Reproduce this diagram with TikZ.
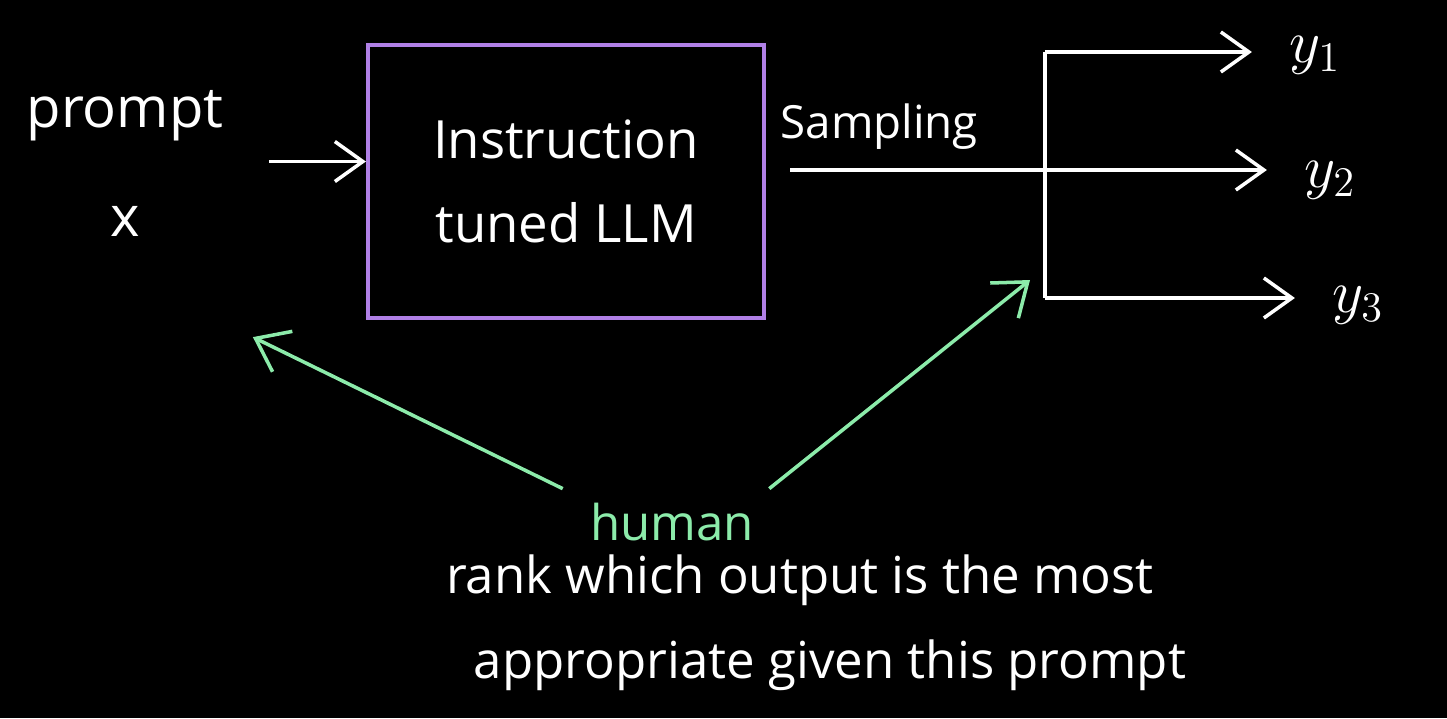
\documentclass[tikz,border=0pt]{standalone}
\usepackage{fontspec}
\setmainfont{Open Sans}
\usetikzlibrary{positioning, arrows.meta, calc}
\definecolor{boxpurple}{RGB}{176,128,230}
\definecolor{notegreen}{RGB}{140,235,170}
\tikzset{
every node/.style={text=white}, % white writing on the dark board
arrow/.style={-{Straight Barb[length=2.8mm,width=4mm]}, white, line width=1pt}, % open v heads
greenarrow/.style={-{Straight Barb[length=3mm,width=4.5mm]}, notegreen, line width=1pt},
model/.style={draw=boxpurple, line width=1.2pt, minimum width=3.96cm, minimum height=2.73cm, align=center},
label/.style={font=\fontsize{16}{20}\selectfont},
}

\begin{document}
\begin{tikzpicture}
      \fill[black] (0,0) rectangle (14.47,7.18);
      \useasboundingbox (0,0) rectangle (14.47,7.18);
      \node[label, align=center, font=\fontsize{16}{31}\selectfont] (input) at (1.25,5.55) {prompt\\x};
      \node[model, font=\fontsize{15}{24}\selectfont] (llm) at (5.66,5.365) {Instruction\\tuned LLM};
      \coordinate (split) at (10.45,5.48);
      \coordinate (top) at (10.45,6.66);
      \coordinate (bot) at (10.45,4.20);
      \node[font=\fontsize{18}{20}\selectfont] (y1) at (13.15,6.63) {$y_1$};
      \node[font=\fontsize{18}{20}\selectfont] (y2) at (13.30,5.38) {$y_2$};
      \node[font=\fontsize{18}{20}\selectfont] (y3) at (13.58,4.13) {$y_3$};
      \node[text=notegreen, font=\fontsize{14}{16}\selectfont] (human) at (6.72,1.96) {human};
      \node[label, font=\fontsize{14.5}{18}\selectfont] (rank) at (8.0,1.38) {rank which output is the most};
      \node[label, font=\fontsize{14.5}{18}\selectfont] (given) at (8.3,0.53) {appropriate given this prompt};
      \draw[arrow] ([xshift=0.33cm]input.east |- llm.west) ++(0,0.2) -- ([yshift=0.2cm]llm.west);
      \draw[white, line width=1pt] ([xshift=0.24cm]llm.east |- split) -- node[above=2pt, pos=0.35, font=\fontsize{13}{16}\selectfont] (samp) {Sampling} (split);
      \draw[white, line width=1pt] (top) -- (bot);
      \draw[arrow] (top) -- ([xshift=-2.5mm]top -| y1.west);
      \draw[arrow] (split) -- ([xshift=-2.5mm]split -| y2.west);
      \draw[arrow] (bot) -- ([xshift=-2.5mm]bot -| y3.west);
      \draw[greenarrow] ([xshift=-0.15cm,yshift=0.02cm]human.north west) -- ([xshift=-1.13cm,yshift=-0.17cm]llm.south west);
      \draw[greenarrow] ([xshift=0.03cm,yshift=0.02cm]human.north east) -- ([xshift=-0.15cm,yshift=0.18cm]bot);
    \end{tikzpicture}
\end{document}
